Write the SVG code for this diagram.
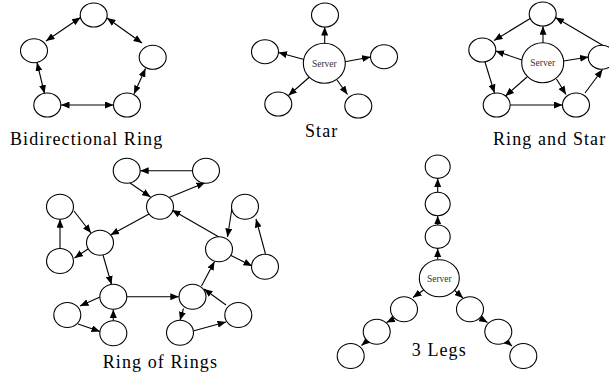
<svg xmlns="http://www.w3.org/2000/svg" width="609" height="377" viewBox="0 0 609 377">
<defs>
<marker id="ah" markerUnits="userSpaceOnUse" markerWidth="9" markerHeight="7" refX="8.5" refY="3.5" orient="auto-start-reverse">
<path d="M0,0 L8.5,3.5 L0,7 z" fill="#000"/>
</marker>
<style>
.n{fill:#fff;stroke:#000;stroke-width:1.1}
.e line{stroke:#000;stroke-width:1.1;marker-end:url(#ah)}
.e line.b{marker-start:url(#ah)}
.lbl{font-family:"Liberation Serif","Times New Roman",serif;font-size:18px;letter-spacing:1.1px;fill:#000}
.srv{font-family:"Liberation Serif","Times New Roman",serif;font-size:9.5px;fill:#333;text-anchor:middle}
</style>
</defs>
<rect width="609" height="377" fill="#fff"/>

<!-- Connectors -->
<g id="connectors" class="e">
<!-- Bidirectional ring -->
<line class="b" x1="46" y1="41" x2="80.5" y2="17.5"/>
<line class="b" x1="107" y1="18" x2="142" y2="43"/>
<line class="b" x1="37" y1="62.5" x2="44.5" y2="93.5"/>
<line class="b" x1="61" y1="105" x2="113.5" y2="105"/>
<line class="b" x1="145.5" y1="68.5" x2="134" y2="94"/>
<!-- Star -->
<line x1="324.7" y1="43.5" x2="324.7" y2="27"/>
<line x1="304" y1="59.5" x2="278.5" y2="52.5"/>
<line x1="345" y1="61.7" x2="370.6" y2="57"/>
<line x1="309.5" y1="77" x2="288.5" y2="95.5"/>
<line x1="337" y1="80" x2="347.5" y2="94.5"/>
<!-- Ring and Star -->
<line x1="543" y1="43" x2="543" y2="26.3"/>
<line x1="522" y1="60" x2="495.7" y2="51"/>
<line x1="563.5" y1="61" x2="588.5" y2="57"/>
<line x1="527" y1="77" x2="505.5" y2="96"/>
<line x1="556.5" y1="79" x2="566" y2="94.5"/>
<line x1="531" y1="18" x2="494" y2="40.5"/>
<line x1="603" y1="45.5" x2="555.5" y2="17.5"/>
<line x1="485" y1="62" x2="494.5" y2="93"/>
<line x1="510.2" y1="105" x2="562.5" y2="105"/>
<line x1="585" y1="93" x2="602.5" y2="69.5"/>
<!-- Ring of Rings -->
<line x1="192.5" y1="170.7" x2="140.2" y2="170.7"/>
<line x1="130" y1="183" x2="150.5" y2="197"/>
<line x1="169" y1="197.5" x2="205" y2="182.7"/>
<line x1="149" y1="214" x2="110.5" y2="235"/>
<line x1="74" y1="211" x2="91" y2="233"/>
<line x1="60" y1="248.5" x2="60" y2="219.2"/>
<line x1="88" y1="249" x2="74.5" y2="258"/>
<line x1="103" y1="255" x2="111.5" y2="284.5"/>
<line x1="219" y1="237" x2="172" y2="210"/>
<line x1="232" y1="208" x2="227.5" y2="237"/>
<line x1="231" y1="255.5" x2="252" y2="266"/>
<line x1="265.5" y1="254" x2="256" y2="219"/>
<line x1="201.5" y1="286" x2="214.5" y2="261.5"/>
<line x1="127" y1="296.7" x2="178.8" y2="296.7"/>
<line x1="100" y1="297" x2="80" y2="306"/>
<line x1="78" y1="324" x2="100" y2="331.5"/>
<line x1="113.3" y1="321" x2="113.3" y2="309.5"/>
<line x1="183.5" y1="308.5" x2="180" y2="320.3"/>
<line x1="194" y1="330.7" x2="226" y2="322"/>
<line x1="226" y1="305" x2="204" y2="289"/>
<!-- 3 Legs -->
<line x1="437.7" y1="259.5" x2="437.7" y2="248.5"/>
<line x1="437.7" y1="225" x2="437.7" y2="215.8"/>
<line x1="437.7" y1="192.3" x2="437.7" y2="178.4"/>
<line x1="425" y1="289" x2="413" y2="297.5"/>
<line x1="453" y1="289" x2="463" y2="298"/>
<line x1="395.5" y1="318" x2="386.5" y2="322.5"/>
<line x1="368" y1="340" x2="361.5" y2="345.5"/>
<line x1="479" y1="317.5" x2="487.5" y2="322.5"/>
<line x1="506" y1="341" x2="512" y2="346"/>
</g>

<!-- Bidirectional Ring nodes -->
<g id="bi-top"><ellipse class="n" cx="93.7" cy="15" rx="13.5" ry="12"/></g>
<g id="bi-left"><ellipse class="n" cx="34" cy="50.7" rx="13.5" ry="12"/></g>
<g id="bi-right"><ellipse class="n" cx="152.7" cy="57.3" rx="13.5" ry="12"/></g>
<g id="bi-bl"><ellipse class="n" cx="47.3" cy="105" rx="13.5" ry="12"/></g>
<g id="bi-br"><ellipse class="n" cx="127" cy="105" rx="13.5" ry="12"/></g>

<!-- Star nodes -->
<g id="star-top"><ellipse class="n" cx="325" cy="15" rx="13.5" ry="12"/></g>
<g id="star-left"><ellipse class="n" cx="265" cy="51.7" rx="13.5" ry="12"/></g>
<g id="star-right"><ellipse class="n" cx="384" cy="56.7" rx="13.5" ry="12"/></g>
<g id="star-bl"><ellipse class="n" cx="278.3" cy="104" rx="13.5" ry="12"/></g>
<g id="star-br"><ellipse class="n" cx="358.3" cy="106" rx="13.5" ry="12"/></g>
<g id="star-server"><ellipse class="n" cx="324.3" cy="63.3" rx="21" ry="20"/><text class="srv" x="324.3" y="66.5">Server</text></g>

<!-- Ring and Star nodes -->
<g id="rs-top"><ellipse class="n" cx="542.7" cy="14" rx="13.5" ry="12"/></g>
<g id="rs-left"><ellipse class="n" cx="482.3" cy="50" rx="13.5" ry="12"/></g>
<g id="rs-right"><ellipse class="n" cx="601.8" cy="57.3" rx="13.5" ry="12"/></g>
<g id="rs-bl"><ellipse class="n" cx="496.7" cy="105" rx="13.5" ry="12"/></g>
<g id="rs-br"><ellipse class="n" cx="576" cy="105" rx="13.5" ry="12"/></g>
<g id="rs-server"><ellipse class="n" cx="542.7" cy="62.7" rx="21" ry="20"/><text class="srv" x="542.7" y="66">Server</text></g>

<!-- Ring of Rings nodes -->
<g id="rr-a"><ellipse class="n" cx="126.7" cy="170.7" rx="13.5" ry="12.5"/></g>
<g id="rr-b"><ellipse class="n" cx="206" cy="170.7" rx="13.5" ry="12.5"/></g>
<g id="rr-c"><ellipse class="n" cx="160" cy="206.7" rx="13.5" ry="12.5"/></g>
<g id="rr-d"><ellipse class="n" cx="60" cy="206.7" rx="13.5" ry="12.5"/></g>
<g id="rr-e"><ellipse class="n" cx="100" cy="242.7" rx="13.5" ry="12.5"/></g>
<g id="rr-f"><ellipse class="n" cx="60" cy="261" rx="13.5" ry="12.5"/></g>
<g id="rr-g"><ellipse class="n" cx="245" cy="206.7" rx="13.5" ry="12.5"/></g>
<g id="rr-h"><ellipse class="n" cx="219" cy="249.3" rx="13.5" ry="12.5"/></g>
<g id="rr-i"><ellipse class="n" cx="265" cy="266.7" rx="13.5" ry="12.5"/></g>
<g id="rr-j"><ellipse class="n" cx="113.3" cy="296.7" rx="13.5" ry="12.5"/></g>
<g id="rr-k"><ellipse class="n" cx="192.5" cy="296.7" rx="13.5" ry="12.5"/></g>
<g id="rr-l"><ellipse class="n" cx="67.3" cy="315" rx="13.5" ry="12.5"/></g>
<g id="rr-m"><ellipse class="n" cx="113.3" cy="333.3" rx="13.5" ry="12.5"/></g>
<g id="rr-n"><ellipse class="n" cx="180" cy="332.7" rx="13.5" ry="12.5"/></g>
<g id="rr-o"><ellipse class="n" cx="238.3" cy="315" rx="13.5" ry="12.5"/></g>

<!-- 3 Legs nodes -->
<g id="leg-up1"><ellipse class="n" cx="437.7" cy="166.7" rx="12.5" ry="11.7"/></g>
<g id="leg-up2"><ellipse class="n" cx="437.7" cy="204" rx="12.5" ry="11.7"/></g>
<g id="leg-up3"><ellipse class="n" cx="437.7" cy="236.7" rx="12.5" ry="11.7"/></g>
<g id="leg-server"><ellipse class="n" cx="439.3" cy="278.3" rx="20" ry="18.5"/><text class="srv" x="439.3" y="281.5">Server</text></g>
<g id="leg-l1"><ellipse class="n" cx="404" cy="309.3" rx="13.5" ry="12.5"/></g>
<g id="leg-l2"><ellipse class="n" cx="376.7" cy="331.7" rx="13.5" ry="12.5"/></g>
<g id="leg-l3"><ellipse class="n" cx="350.7" cy="356" rx="13.5" ry="12.5"/></g>
<g id="leg-r1"><ellipse class="n" cx="470" cy="309.3" rx="13.5" ry="12.5"/></g>
<g id="leg-r2"><ellipse class="n" cx="498.3" cy="331.7" rx="13.5" ry="12.5"/></g>
<g id="leg-r3"><ellipse class="n" cx="523.3" cy="356" rx="13.5" ry="12.5"/></g>

<!-- Labels -->
<text class="lbl" x="10" y="145">Bidirectional Ring</text>
<text class="lbl" x="305" y="137">Star</text>
<text class="lbl" x="493" y="145">Ring and Star</text>
<text class="lbl" x="102.7" y="367.7">Ring of Rings</text>
<text class="lbl" x="411.7" y="356">3 Legs</text>
</svg>
